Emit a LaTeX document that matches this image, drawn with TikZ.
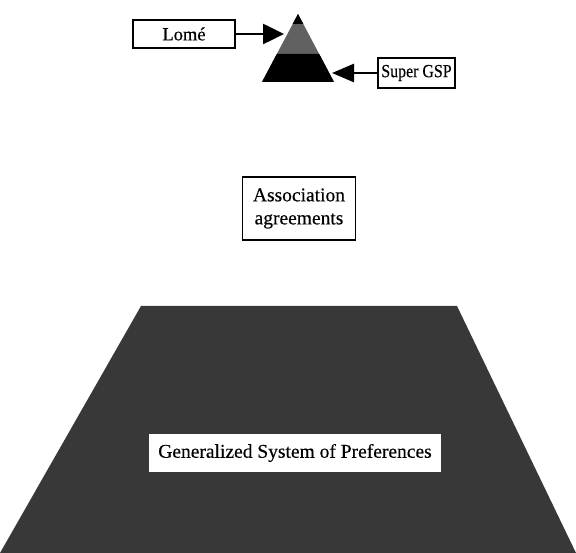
\documentclass[tikz,border=0pt]{standalone}
\usepackage{fontspec}
\setmainfont{Liberation Serif}[FakeBold=0.35]
\usetikzlibrary{arrows.meta}
\begin{document}
\begin{tikzpicture}[x=1pt,y=-1pt,
  labelbox/.style={draw=black,line width=1.3pt,fill=white,inner sep=0pt,align=center,font=\fontsize{18.5}{21}\selectfont},
  feed/.style={line width=2.6pt,-{Triangle[length=21pt,width=20pt]}},
  pyr/.style={fill=black!78}]
\useasboundingbox (0,0) rectangle (576,553);
% small pyramid
\fill[black!62] (298,14) -- (334,82) -- (262,82) -- cycle;
\fill[black] (276.8,54) -- (319.2,54) -- (334,82) -- (262,82) -- cycle;
\fill[black] (298,14) -- (303.3,24) -- (292.7,24) -- cycle;
% large pyramid
\fill[pyr] (141,306) -- (457,306) -- (576,553) -- (0,553) -- cycle;
% labels
\node[labelbox,minimum width=102pt,minimum height=28pt] (lome) at (184,34) {Lomé};
\node[labelbox,minimum width=77pt,minimum height=30pt] (sgsp) at (416.5,73) {\scalebox{0.86}[1]{Super GSP}};
\node[labelbox,minimum width=113pt,minimum height=63pt,font=\fontsize{19.5}{23}\selectfont] (assoc) at (299,208.5) {Association\\agreements};
\node[labelbox,draw=none,minimum width=292pt,minimum height=38pt,font=\fontsize{19.5}{22}\selectfont] (gsp) at (295,453) {Generalized System of Preferences};
\coordinate (lometip) at (284,34);
\coordinate (sgsptip) at (332,73);
\draw[feed] (lome.east) -- (lometip);
\draw[feed,-{Triangle[length=22pt,width=18pt]}] (sgsp.west) -- (sgsptip);
\end{tikzpicture}
\end{document}
